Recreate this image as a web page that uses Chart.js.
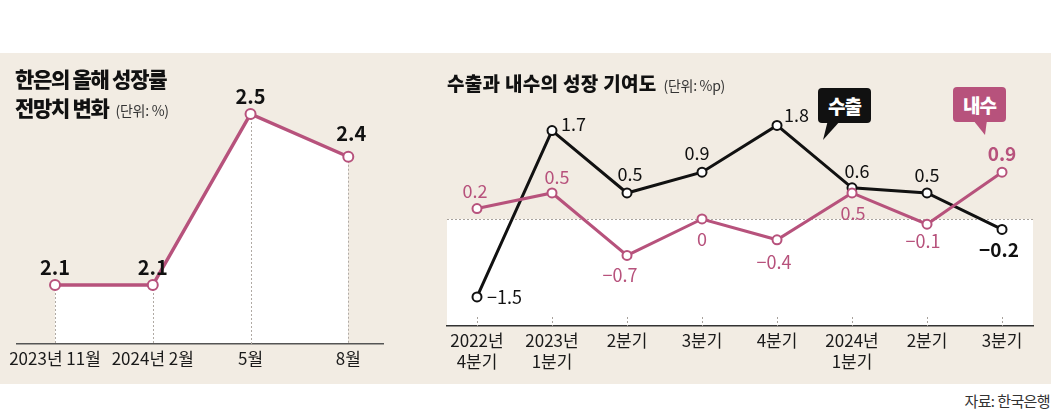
<!DOCTYPE html>
<html>
<head>
<meta charset="utf-8">
<script src="https://cdn.jsdelivr.net/npm/chart.js@4.4.1/dist/chart.umd.min.js"></script>
<style>
  body { margin:0; width:1051px; height:414px; position:relative; background:#fff; overflow:hidden;
         font-family:"Noto Sans CJK KR", sans-serif; color:#111; }
  .abs { position:absolute; white-space:nowrap; }
  .title { font-weight:900; font-size:21px; line-height:21px; letter-spacing:-1.3px; }
  .unit { font-weight:normal; font-size:14px; letter-spacing:-0.3px; color:#333; margin-left:7px; }
  .tag { position:absolute; width:53px; height:35px; border-radius:4px; color:#fff; font-weight:900;
         font-size:19px; line-height:35px; text-align:center; letter-spacing:-1px; }
  .tail { position:absolute; }
  canvas { position:absolute; top:53px; }
</style>
</head>
<body>
<div class="abs" style="left:0;top:53px;width:1051px;height:331px;background:#f2ece3"></div>

<canvas id="growth" width="420" height="331" style="left:0"></canvas>
<canvas id="contrib" width="621" height="331" style="left:430px"></canvas>

<div class="abs title" style="left:15px;top:68px">한은의 올해 성장률</div>
<div class="abs title" style="left:15px;top:97px">전망치 변화<span class="unit">(단위: %)</span></div>
<div class="abs title" style="left:447px;top:72px;font-size:19px;letter-spacing:0.3px">수출과 내수의 성장 기여도<span class="unit">(단위: %p)</span></div>

<div class="tag" style="left:818px;top:88px;background:#111">수출</div>
<div class="tail" style="left:820px;top:120px;width:24px;height:21px;background:#111;clip-path:polygon(8px 0,21px 0,3px 20px)"></div>
<div class="tag" style="left:953px;top:87px;background:#b7527c">내수</div>
<div class="tail" style="left:970px;top:120px;width:20px;height:16px;background:#b7527c;clip-path:polygon(3px 0,17px 0,15px 15px)"></div>

<div class="abs" style="right:1px;top:390px;font-size:15px;letter-spacing:-0.6px;color:#333">자료: 한국은행</div>

<script>
// 한은의 올해 성장률 전망치
const growthMonths = ['2023년 11월', '2024년 2월', '5월', '8월'];
const growthForecast = [2.1, 2.1, 2.5, 2.4];

// 수출과 내수의 성장 기여도
const quarters = [['2022년', '4분기'], ['2023년', '1분기'], '2분기', '3분기', '4분기', ['2024년', '1분기'], '2분기', '3분기'];
const exportContrib = [-1.5, 1.7, 0.5, 0.9, 1.8, 0.6, 0.5, -0.2];
const domesticContrib = [0.2, 0.5, -0.7, 0, -0.4, 0.5, -0.1, 0.9];

// where each value label sits relative to its point: [dx, dy, align]
const growthLabelPos = [[0, -18, 'center'], [0, -18, 'center'], [0, -18, 'center'], [3, -23, 'center']];
const exportLabelPos = [[10, 0, 'left'], [9, -6, 'left'], [3, -19, 'center'], [-5, -19, 'center'],
                        [7, -10, 'left'], [5, -17, 'center'], [0, -18, 'center'], [-3, 20, 'center']];
const domesticLabelPos = [[-2, -17, 'center'], [5, -16, 'center'], [-7, 20, 'center'], [0, 20, 'center'],
                          [-3, 22, 'center'], [1, 20, 'center'], [-4, 17, 'center'], [0, -18, 'center']];

const PINK = '#b7527c';
const FONT = '"Noto Sans CJK KR", sans-serif';
Chart.defaults.font.family = FONT;
Chart.defaults.color = '#1a1a1a';

function fmt(v) {
  return v < 0 ? '\u2212' + Math.abs(v) : String(v);
}
function toPoints(arr) {
  return arr.map((v, i) => ({x: i, y: v}));
}
// one tick per category index
function categoryTicks(labels) {
  return scale => { scale.ticks = labels.map((_, i) => ({value: i})); };
}
// fixed height for the x axis box so the plot bottom lands where it should
function axisHeight(h) {
  return scale => { scale.height = h; };
}

// value labels next to points
const pointLabels = {
  id: 'pointLabels',
  afterDatasetsDraw(chart) {
    const ctx = chart.ctx;
    chart.data.datasets.forEach((ds, i) => {
      const meta = chart.getDatasetMeta(i);
      meta.data.forEach((pt, j) => {
        const pos = ds.labelPos[j];
        let font = ds.labelSize + 'px ' + FONT;
        if (ds.labelBold === 'all') font = 'bold ' + font;
        if (ds.labelBold === 'last' && j === meta.data.length - 1) font = 'bold ' + (ds.labelSize + 1) + 'px ' + FONT;
        ctx.save();
        ctx.font = font;
        ctx.fillStyle = ds.labelColor;
        ctx.textAlign = pos[2];
        ctx.textBaseline = 'middle';
        ctx.fillText(fmt(ds.data[j].y), pt.x + pos[0], pt.y + pos[1]);
        ctx.restore();
      });
    });
  }
};

// dashed drop lines under the forecast points
const dropLines = {
  id: 'dropLines',
  beforeDatasetsDraw(chart) {
    const ctx = chart.ctx;
    const bottom = chart.chartArea.bottom;
    ctx.save();
    ctx.strokeStyle = '#b0aaa4';
    ctx.lineWidth = 1;
    ctx.setLineDash([2, 2]);
    chart.getDatasetMeta(0).data.forEach(pt => {
      ctx.beginPath();
      ctx.moveTo(Math.round(pt.x) + 0.5, pt.y);
      ctx.lineTo(Math.round(pt.x) + 0.5, bottom);
      ctx.stroke();
    });
    ctx.restore();
  }
};

// white panel below zero, dotted zero line, small tick dashes
const zeroPanel = {
  id: 'zeroPanel',
  beforeDraw(chart) {
    const {ctx, chartArea} = chart;
    const y0 = chart.scales.y.getPixelForValue(0);
    ctx.save();
    ctx.fillStyle = '#fff';
    ctx.fillRect(chartArea.left, y0, chartArea.right - chartArea.left, chartArea.bottom - y0);
    ctx.restore();
  },
  beforeDatasetsDraw(chart) {
    const {ctx, chartArea} = chart;
    const y0 = Math.round(chart.scales.y.getPixelForValue(0)) + 0.5;
    ctx.save();
    ctx.strokeStyle = '#a8a29c';
    ctx.lineWidth = 1;
    ctx.setLineDash([2, 2]);
    ctx.beginPath();
    ctx.moveTo(chartArea.left, y0);
    ctx.lineTo(chartArea.right, y0);
    ctx.stroke();
    chart.scales.x.ticks.forEach(t => {
      const x = Math.round(chart.scales.x.getPixelForValue(t.value)) + 0.5;
      ctx.beginPath();
      ctx.moveTo(x, chartArea.bottom - 9);
      ctx.lineTo(x, chartArea.bottom);
      ctx.stroke();
    });
    ctx.restore();
  }
};

new Chart(document.getElementById('growth'), {
  type: 'line',
  data: {
    datasets: [{
      data: toPoints(growthForecast),
      borderColor: PINK,
      borderWidth: 3.5,
      backgroundColor: '#fff',
      fill: 'start',
      pointRadius: 5,
      pointBorderWidth: 2,
      pointBackgroundColor: '#fff',
      pointBorderColor: PINK,
      clip: false,
      labelPos: growthLabelPos,
      labelColor: '#111',
      labelSize: 20,
      labelBold: 'all'
    }]
  },
  options: {
    responsive: false,
    animation: false,
    layout: {padding: {left: 17, right: 37, top: 30, bottom: 0}},
    plugins: {legend: {display: false}, tooltip: {enabled: false}, filler: {drawTime: 'beforeDraw'}},
    scales: {
      x: {
        type: 'linear', min: -0.389, max: 3.355,
        afterBuildTicks: categoryTicks(growthMonths),
        afterFit: axisHeight(40),
        grid: {display: false, drawTicks: false},
        border: {display: true, color: '#555', width: 1.5},
        ticks: {
          padding: 4, maxRotation: 0, autoSkip: false,
          font: {size: 17, lineHeight: 1.25},
          callback: v => growthMonths[v]
        }
      },
      y: {display: false, min: 1.962, max: 2.5725}
    }
  },
  plugins: [dropLines, pointLabels]
});

new Chart(document.getElementById('contrib'), {
  type: 'line',
  data: {
    datasets: [{
      label: '수출',
      data: toPoints(exportContrib),
      order: 1,
      borderColor: '#111',
      borderWidth: 3,
      pointRadius: 4.5,
      pointBorderWidth: 2,
      pointBackgroundColor: '#fff',
      pointBorderColor: '#111',
      clip: false,
      labelPos: exportLabelPos,
      labelColor: '#111',
      labelSize: 18,
      labelBold: 'last'
    }, {
      label: '내수',
      data: toPoints(domesticContrib),
      order: 0,
      borderColor: PINK,
      borderWidth: 3,
      pointRadius: 4.5,
      pointBorderWidth: 2,
      pointBackgroundColor: '#fff',
      pointBorderColor: PINK,
      clip: false,
      labelPos: domesticLabelPos,
      labelColor: PINK,
      labelSize: 18,
      labelBold: 'last'
    }]
  },
  options: {
    responsive: false,
    animation: false,
    layout: {padding: {left: 17, right: 18, top: 30, bottom: 0}},
    plugins: {legend: {display: false}, tooltip: {enabled: false}},
    scales: {
      x: {
        type: 'linear', min: -0.4, max: 7.413,
        afterBuildTicks: categoryTicks(quarters),
        afterFit: axisHeight(58),
        grid: {display: false, drawTicks: false},
        border: {display: true, color: '#333', width: 1.5},
        ticks: {
          padding: 4, maxRotation: 0, autoSkip: false,
          font: {size: 17, lineHeight: 1.25},
          callback: v => quarters[v]
        }
      },
      y: {display: false, min: -2.058, max: 2.615}
    }
  },
  plugins: [zeroPanel, pointLabels]
});
</script>
</body>
</html>
